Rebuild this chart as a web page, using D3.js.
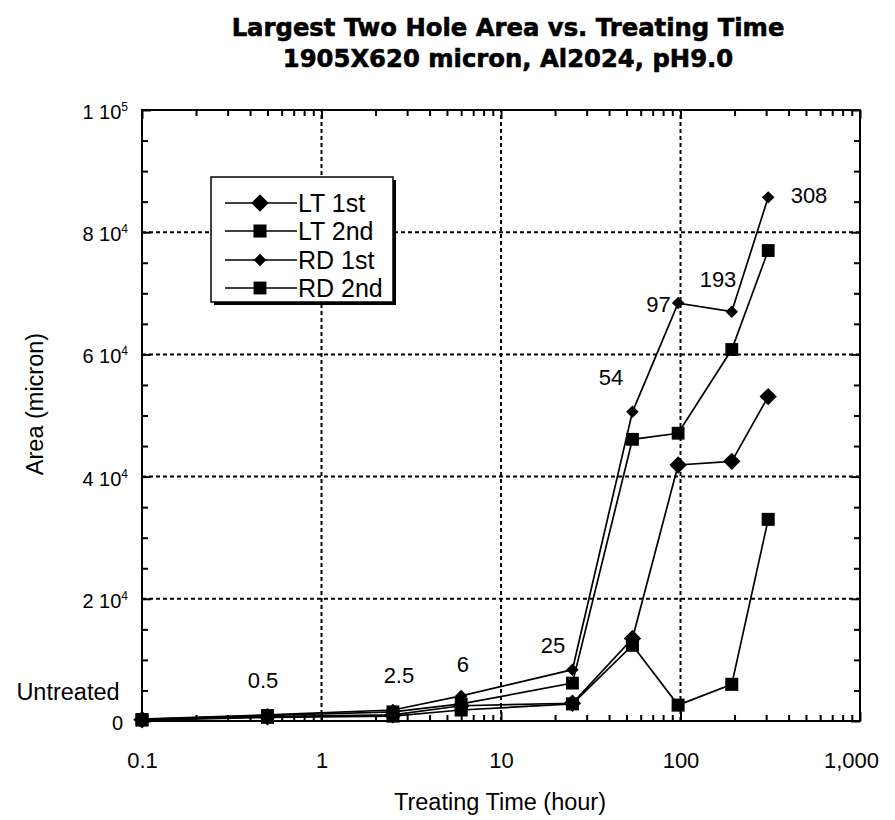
<!DOCTYPE html>
<html><head><meta charset="utf-8">
<script src="https://cdn.jsdelivr.net/npm/d3@7"></script>
<style>body{margin:0;background:#fff} svg{display:block}</style>
</head><body>
<svg id="chart" width="895" height="820"></svg>
<script>
// ---- data ----
const times = [0.1, 0.5, 2.5, 6, 25, 54, 97, 193, 308];
const seriesNames = ["LT 1st", "LT 2nd", "RD 1st", "RD 2nd"];
const lt1st = [200, 700, 1000, 2500, 2900, 13500, 41900, 42500, 53100];
const lt2nd = [150, 600, 800, 1800, 2800, 12400, 2600, 6000, 33000];
const rd1st = [300, 1000, 1800, 4100, 8400, 50600, 68400, 67000, 85700];
const rd2nd = [250, 900, 1500, 2800, 6200, 46100, 47100, 60800, 77000];
const xTickValues = [0.1, 1, 10, 100, 1000];
const xTickLabels = ["0.1", "1", "10", "100", "1,000"];
const yTickValues = [0, 20000, 40000, 60000, 80000, 100000];
const yTickBase = ["0", "2 10", "4 10", "6 10", "8 10", "1 10"];
const yTickExp = ["", "4", "4", "4", "4", "5"];
const annText = ["Untreated", "0.5", "2.5", "6", "25", "54", "97", "193", "308"];
const annTime = [0.0387, 0.472, 2.70, 6.14, 19.5, 41.0, 75.4, 161.8, 519.9];
const annArea = [3440, 5400, 6220, 8020, 11130, 54990, 66940, 71030, 84780];

// ---- setup ----
const FONT = "'Liberation Sans', Arial, Helvetica, sans-serif";
const svg = d3.select("#chart");
const x = d3.scaleLog().domain([0.1, 1000]).range([142, 860]);
const y = d3.scaleLinear().domain([0, 100000]).range([721, 110]);

const seriesData = [lt1st, lt2nd, rd1st, rd2nd];
const markerType = [d3.symbolSquare, d3.symbolSquare, d3.symbolSquare, d3.symbolSquare];
const markerSize = [150, 170, 78, 165];
const markerRot = [45, 0, 45, 0];

// titles
[["Largest Two Hole Area vs. Treating Time", 36], ["1905X620 micron, Al2024, pH9.0", 67]].forEach(([t, yy]) => {
  svg.append("text").attr("x", 508).attr("y", yy).attr("text-anchor", "middle")
    .attr("font-family", "'DejaVu Sans', sans-serif").attr("font-weight", "bold").attr("font-size", 24.3)
    .attr("stroke", "#000").attr("stroke-width", 0.6).text(t);
});

// grid
const dash = "4,3";
svg.append("g").selectAll("line").data(xTickValues.slice(1, 4)).join("line")
  .attr("x1", d => x(d)).attr("x2", d => x(d)).attr("y1", y(0)).attr("y2", y(100000))
  .attr("stroke", "#000").attr("stroke-width", 2).attr("stroke-dasharray", dash);
svg.append("g").selectAll("line").data(yTickValues.slice(1, 5)).join("line")
  .attr("y1", d => y(d)).attr("y2", d => y(d)).attr("x1", x(0.1)).attr("x2", x(1000))
  .attr("stroke", "#000").attr("stroke-width", 2).attr("stroke-dasharray", dash);

// axes
const xMinor = [];
[0.1, 1, 10, 100].forEach(dd => { for (let k = 2; k <= 9; k++) xMinor.push(dd * k); });
const yMinor = d3.range(0, 100001, 5000).filter(v => v % 20000 !== 0);

function styleAxis(g) {
  g.select(".domain").remove();
  g.selectAll(".tick line").attr("stroke", "#000").attr("stroke-width", 2);
}
const gB = svg.append("g").attr("transform", `translate(0,${y(0)})`)
  .call(d3.axisBottom(x).tickValues(xTickValues).tickFormat(d => xTickLabels[xTickValues.indexOf(d)])
    .tickSizeInner(-9).tickSizeOuter(0).tickPadding(31)).call(styleAxis);
gB.selectAll(".tick text").attr("font-family", FONT).attr("font-size", 22).attr("fill", "#000");
gB.selectAll(".tick text").filter(d => d === 1000).attr("dx", -9);
svg.append("g").attr("transform", `translate(0,${y(0)})`)
  .call(d3.axisBottom(x).tickValues(xMinor).tickFormat("").tickSizeInner(-6).tickSizeOuter(0)).call(styleAxis);
svg.append("g").attr("transform", `translate(0,${y(100000)})`)
  .call(d3.axisTop(x).tickValues(xTickValues).tickFormat("").tickSizeInner(-9).tickSizeOuter(0)).call(styleAxis);
svg.append("g").attr("transform", `translate(0,${y(100000)})`)
  .call(d3.axisTop(x).tickValues(xMinor).tickFormat("").tickSizeInner(-6).tickSizeOuter(0)).call(styleAxis);

const gL = svg.append("g").attr("transform", `translate(${x(0.1)},0)`)
  .call(d3.axisLeft(y).tickValues(yTickValues).tickSizeInner(-9).tickSizeOuter(0).tickPadding(14)).call(styleAxis);
gL.selectAll(".tick text").each(function(d) {
  const i = yTickValues.indexOf(d);
  const t = d3.select(this).text(null).attr("font-family", FONT).attr("font-size", 20).attr("fill", "#000").attr("dy", "0.42em");
  t.append("tspan").text(yTickBase[i]);
  if (yTickExp[i]) t.append("tspan").attr("font-size", 12).attr("dy", -8).text(yTickExp[i]);
  else t.attr("dx", -5);
});
svg.append("g").attr("transform", `translate(${x(0.1)},0)`)
  .call(d3.axisLeft(y).tickValues(yMinor).tickFormat("").tickSizeInner(-6).tickSizeOuter(0)).call(styleAxis);
svg.append("g").attr("transform", `translate(${x(1000)},0)`)
  .call(d3.axisRight(y).tickValues(yTickValues).tickFormat("").tickSizeInner(-9).tickSizeOuter(0)).call(styleAxis);
svg.append("g").attr("transform", `translate(${x(1000)},0)`)
  .call(d3.axisRight(y).tickValues(yMinor).tickFormat("").tickSizeInner(-6).tickSizeOuter(0)).call(styleAxis);

// frame
svg.append("rect").attr("x", x(0.1)).attr("y", y(100000)).attr("width", x(1000) - x(0.1)).attr("height", y(0) - y(100000))
  .attr("fill", "none").attr("stroke", "#000").attr("stroke-width", 2);

// axis titles
svg.append("text").attr("x", 500).attr("y", 810).attr("text-anchor", "middle")
  .attr("font-family", FONT).attr("font-size", 23.5).text("Treating Time (hour)");
svg.append("text").attr("transform", "translate(43,404) rotate(-90)").attr("text-anchor", "middle")
  .attr("font-family", FONT).attr("font-size", 23.5).text("Area (micron)");

// lines
const line = d3.line().x((d, i) => x(times[i])).y(d => y(d));
seriesData.forEach(s => {
  svg.append("path").datum(s).attr("d", line).attr("fill", "none").attr("stroke", "#000").attr("stroke-width", 1.7);
});
// markers
seriesData.forEach((s, k) => {
  svg.append("g").selectAll("path").data(s).join("path")
    .attr("transform", (d, i) => `translate(${x(times[i])},${y(d)}) rotate(${markerRot[k]})`)
    .attr("d", d3.symbol().type(markerType[k]).size(markerSize[k])).attr("fill", "#000");
});

// annotations
svg.append("g").selectAll("text").data(annText).join("text")
  .attr("x", (d, i) => x(annTime[i])).attr("y", (d, i) => y(annArea[i]))
  .attr("text-anchor", "middle").attr("font-family", FONT).attr("font-size", (d, i) => i === 0 ? 23.5 : 22).text(d => d);

// legend
const lg = svg.append("g");
lg.append("rect").attr("x", 214).attr("y", 180).attr("width", 182).attr("height", 125).attr("fill", "#000");
lg.append("rect").attr("x", 211).attr("y", 177).attr("width", 182).attr("height", 125)
  .attr("fill", "#fff").attr("stroke", "#000").attr("stroke-width", 1.5);
const rowY = [203, 231, 260, 288];
seriesNames.forEach((n, k) => {
  lg.append("line").attr("x1", 225).attr("x2", 297).attr("y1", rowY[k]).attr("y2", rowY[k]).attr("stroke", "#000").attr("stroke-width", 1.6);
  lg.append("path").attr("transform", `translate(260,${rowY[k]}) rotate(${markerRot[k]})`)
    .attr("d", d3.symbol().type(markerType[k]).size(markerSize[k])).attr("fill", "#000");
  lg.append("text").attr("x", 298).attr("y", rowY[k]).attr("dy", "0.36em")
    .attr("font-family", FONT).attr("font-size", 25).text(n);
});
</script>
</body></html>
